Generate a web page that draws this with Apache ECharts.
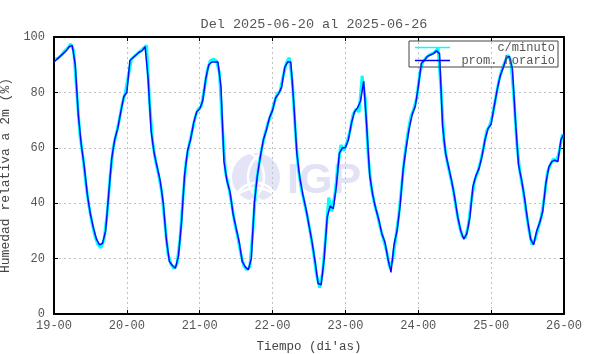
<!DOCTYPE html>
<html>
<head>
<meta charset="utf-8">
<script src="https://cdn.jsdelivr.net/npm/echarts@6/dist/echarts.min.js"></script>
<style>html,body{margin:0;padding:0;background:#fff}#c{width:590px;height:354px}</style>
</head>
<body>
<div id="c"></div>
<script>
// Tick labels (one per day, every 24 h)
var tickLabels = ['19-00','20-00','21-00','22-00','23-00','24-00','25-00','26-00'];
// Hourly average (prom. horario), hours 0..168 from 2025-06-19 00:00
var hourlyVals = [
  91,92,93,94,95,96.5,97,90,72,61,53,43,36,31,27,25,25.5,30,43,56,63,67,73,78.5,
  80,91.5,92.5,93.5,94.5,95,96.5,85,66,58,53,48,40,27,19,17.5,16.5,21,33,50,59,63,69,73,
  74,77,85,90,91,91,91,82,55,48,44,36,31,26,19,17,16,20,40,50,57,63,66.5,71,
  73.5,78,79.5,82,89,91,91,76,58,49,43,38,32,26,19,11,10.5,20,35,39,38,46,58,60,
  60,63,69,73,74.5,77,84,68,50,43,38,34,29,26,20,15,25,30,39,52,60,67,72,75,
  82,90.5,91.5,93,93.5,94,95,94,68,58,53,48,42,35,30,27,29,35,46,50,52.5,57,63,67,
  68.5,75,81,86,89,92.5,93,88.5,70,54,48.5,42,34,27,25,30,33,37,47,53,55,55.5,55,63,65
];
// Per-minute trace (c/minuto), read at half-hour marks (hours 0.5..167.5)
var minuteVals = [
  92,92.5,93.5,95,96,97.5,95,80,65,57,47,39,33,28,25,24,27,36,50,60,65,70,76,80,
  86,92,93,94,95,96,97,76,62,55,50,44,33,22,18,16.5,18,27,42,55,61,66,71,74,
  75,81,88,91.5,92,91.5,87,67,51,46,40,33,28,22,17.5,16,17,30,46,54,60,65,69,72,
  76,79.5,80.5,86,90.5,92.5,84,66,52,45,40,35,29,22,14,9.5,15,28,42,37,43,53,61,59,
  62,66,72,74,73,86,78,57,46,40,36,31,27,23,17,19,27,35,46,57,65,71,74,78,
  87,91,92.5,93.5,94,94.5,96,81,62,55,50,45,38,32,28,27.5,32,41,48,51,55,60,66,68,
  72,78,84,88,91,93.5,91.5,78,61,51,45,37,30,25,27,31,35,42,51,54,56,55,59,65
];
var seriesNames = ['c/minuto','prom. horario'];

var hourlyData = hourlyVals.map(function(v,i){return [i, v];});
var minuteData = minuteVals.map(function(v,i){return [i + 0.5, v];});

var mono = "'Liberation Mono','DejaVu Sans Mono',monospace";
var chart = echarts.init(document.getElementById('c'));
var axisLineStyle = {color:'#000', width:2};
var split = {show:true, lineStyle:{color:'#c0c0c0', type:[2,3], width:1}};
chart.setOption({
  animation:false,
  backgroundColor:'#fff',
  title:{text:'Del 2025-06-20 al 2025-06-26', left:309, textAlign:'center', top:12,
    textStyle:{fontFamily:mono, fontSize:13.5, fontWeight:'normal', color:'#555'}},
  grid:{left:54, right:26, top:37, bottom:40, outerBoundsMode:'none', containLabel:false},
  legend:{
    orient:'vertical', left:409, top:41, itemWidth:35, itemHeight:1.5, itemGap:0,
    icon:'rect', padding:[0,3,0,6], borderColor:'#444', borderWidth:1,
    data:seriesNames,
    formatter:function(n){return '{a|'+n+'}';},
    textStyle:{fontFamily:mono, fontSize:12, color:'#555', lineHeight:13,
      rich:{a:{width:100, align:'right', fontFamily:mono, fontSize:12, color:'#555'}}}
  },
  graphic:[
    {type:'circle', shape:{cx:256, cy:177, r:24}, style:{fill:'#e4e4f7'}, z:0, silent:true},
    {type:'arc', shape:{cx:256, cy:205, r:22, startAngle:Math.PI*1.05, endAngle:Math.PI*1.95}, style:{stroke:'#fff', lineWidth:2.5, fill:null}, z:0, silent:true},
    {type:'arc', shape:{cx:256, cy:218, r:30, startAngle:Math.PI*1.1, endAngle:Math.PI*1.9}, style:{stroke:'#fff', lineWidth:2.5, fill:null}, z:0, silent:true},
    {type:'arc', shape:{cx:236, cy:177, r:28, startAngle:-Math.PI*0.35, endAngle:Math.PI*0.35}, style:{stroke:'#fff', lineWidth:2.5, fill:null}, z:0, silent:true},
    {type:'arc', shape:{cx:276, cy:177, r:28, startAngle:Math.PI*0.65, endAngle:Math.PI*1.35}, style:{stroke:'#fff', lineWidth:2.5, fill:null}, z:0, silent:true},
    {type:'text', left:287, top:160, style:{text:'IGP', font:"bold 43px 'Liberation Sans', Arial, sans-serif", fill:'#e2e2f6'}, z:0, silent:true}
  ],
  xAxis:[
    {type:'value', min:0, max:168, interval:24, position:'bottom',
      name:"Tiempo (di'as)", nameLocation:'middle', nameGap:26,
      nameTextStyle:{fontFamily:mono, fontSize:12.5, color:'#444'},
      axisLine:{show:true, onZero:false, lineStyle:axisLineStyle},
      axisTick:{show:true, inside:true, length:4, lineStyle:{color:'#000', width:1}},
      axisLabel:{margin:6, fontFamily:mono, fontSize:12, color:'#555',
        formatter:function(v){return tickLabels[Math.round(v/24)];}},
      splitLine:split},
    {type:'value', min:0, max:168, interval:24, position:'top',
      axisLine:{show:true, onZero:false, lineStyle:axisLineStyle},
      axisTick:{show:true, inside:true, length:4, lineStyle:{color:'#000', width:1}},
      axisLabel:{show:false}, splitLine:{show:false}}
  ],
  yAxis:[
    {type:'value', min:0, max:100, interval:20, position:'left',
      name:'Humedad relativa a 2m (%)', nameLocation:'middle', nameGap:35,
      nameTextStyle:{fontFamily:mono, fontSize:13, color:'#444'},
      axisLine:{show:true, onZero:false, lineStyle:axisLineStyle},
      axisTick:{show:true, inside:true, length:4, lineStyle:{color:'#000', width:1}},
      axisLabel:{margin:9, fontFamily:mono, fontSize:12, color:'#555'},
      splitLine:split},
    {type:'value', min:0, max:100, interval:20, position:'right',
      axisLine:{show:true, onZero:false, lineStyle:axisLineStyle},
      axisTick:{show:true, inside:true, length:4, lineStyle:{color:'#000', width:1}},
      axisLabel:{show:false}, splitLine:{show:false}}
  ],
  series:[
    {name:seriesNames[0], type:'line', data:minuteData, showSymbol:false, symbol:'none',
      color:'#00ffff', lineStyle:{color:'#00ffff', width:3}, z:2},
    {name:seriesNames[1], type:'line', data:hourlyData, showSymbol:false, symbol:'none',
      color:'#0000ff', lineStyle:{color:'#0a0aff', width:1.5}, z:3}
  ]
});
</script>
</body>
</html>
